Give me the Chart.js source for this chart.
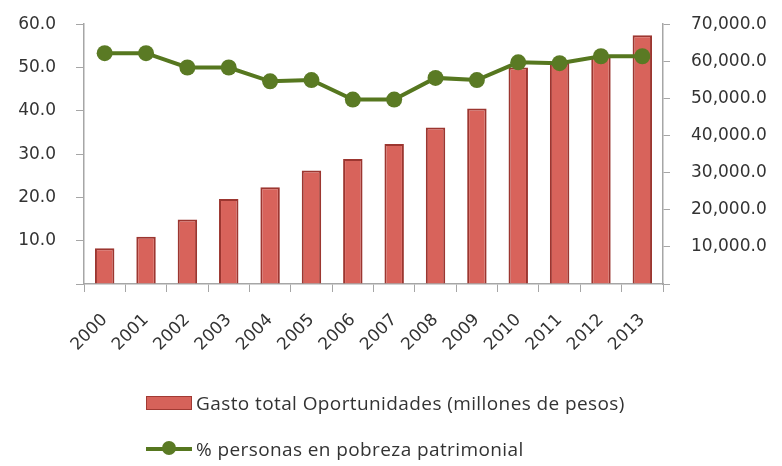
<!DOCTYPE html>
<html>
<head>
<meta charset="utf-8">
<script src="https://cdn.jsdelivr.net/npm/chart.js@4.4.1/dist/chart.umd.min.js"></script>
<style>
  body { margin: 0; background: #fff; }
  #wrap { position: relative; width: 782px; height: 466px; overflow: hidden; }
  #chart { position: absolute; left: 0; top: -7px; }
  #legend { position: absolute; left: 146px; top: 390px; font-family: "Open Sans", sans-serif; font-size: 19px; letter-spacing: 0.4px; color: #333; }
  .row { display: flex; align-items: center; height: 26px; margin-bottom: 20px; }
  .box { width: 44px; height: 12px; background: #d6625a; border: 1px solid #a13a33; margin-right: 4px; }
  .ln { position: relative; width: 46px; height: 4px; background: #56771f; margin-right: 4px; }
  .ln span { position: absolute; left: 16px; top: -6px; width: 14px; height: 14px; border-radius: 50%; background: #5a7a24; }
</style>
</head>
<body>
<div id="wrap">
  <canvas id="chart" width="782" height="473"></canvas>
  <div id="legend">
    <div class="row"><div class="box"></div>Gasto total Oportunidades (millones de pesos)</div>
    <div class="row"><div class="ln"><span></span></div>% personas en pobreza patrimonial</div>
  </div>
</div>
<script>
let years = ["2000", "2001", "2002", "2003", "2004", "2005", "2006", "2007", "2008", "2009", "2010", "2011", "2012", "2013"];
let gasto = [9650, 12700, 17350, 22900, 26100, 30600, 33700, 37700, 42200, 47300, 58300, 59600, 61400, 67000];
let pobreza = [53.3, 53.3, 50.0, 50.0, 46.8, 47.1, 42.6, 42.6, 47.6, 47.1, 51.2, 51.0, 52.6, 52.6];
let leftTicks = [0, 60, 10];
let rightTicks = [0, 70000, 10000];

let axisColor = "#a6a6a6";
let textColor = "#333333";
let tickFont = { family: "DejaVu Sans", size: 17 };

const ctx = document.getElementById("chart");

new Chart(ctx, {
  type: "bar",
  data: {
    labels: years,
    datasets: [
      {
        type: "line",
        label: "% personas en pobreza patrimonial",
        data: pobreza,
        yAxisID: "y",
        borderColor: "#56771f",
        borderWidth: 4,
        pointRadius: 8,
        pointBackgroundColor: "#5a7a24",
        pointBorderWidth: 0,
        tension: 0,
        order: 0,
      },
      {
        type: "bar",
        label: "Gasto total Oportunidades (millones de pesos)",
        data: gasto,
        yAxisID: "y1",
        backgroundColor: "#d8635b",
        borderColor: "#9c3630",
        borderWidth: 2,
        barPercentage: 0.47,
        categoryPercentage: 1,
        order: 1,
      },
    ],
  },
  options: {
    responsive: false,
    animation: false,
    layout: {
      padding: { top: 16, left: 0, right: 0, bottom: 0 },
    },
    plugins: {
      legend: { display: false },
      tooltip: { enabled: false },
    },
    scales: {
      x: {
        offset: true,
        grid: { display: true, drawOnChartArea: false, offset: true, tickLength: 8, color: axisColor },
        border: { color: axisColor, width: 1.5 },
        ticks: { color: textColor, font: tickFont, minRotation: 45, maxRotation: 45, padding: 18 },
        afterFit: (scale) => { scale.height = 182; },
      },
      y: {
        position: "left",
        min: leftTicks[0],
        max: leftTicks[1],
        grid: { display: true, drawOnChartArea: false, tickLength: 8, color: axisColor },
        border: { color: axisColor, width: 1.5 },
        ticks: {
          stepSize: leftTicks[2],
          color: textColor,
          font: tickFont,
          padding: 20,
          callback: (v) => (v === 0 ? "" : v.toFixed(1)),
        },
        afterFit: (scale) => { scale.width = 84; },
      },
      y1: {
        position: "right",
        min: rightTicks[0],
        max: rightTicks[1],
        grid: { display: true, drawOnChartArea: false, tickLength: 7, color: axisColor },
        border: { color: axisColor, width: 1.5 },
        ticks: {
          stepSize: rightTicks[2],
          color: textColor,
          font: tickFont,
          padding: 21,
          callback: (v) => (v === 0 ? "" : v.toLocaleString("en-US", { minimumFractionDigits: 1, maximumFractionDigits: 1 })),
        },
        afterFit: (scale) => { scale.width = 119; },
      },
    },
  },
});
</script>
</body>
</html>
